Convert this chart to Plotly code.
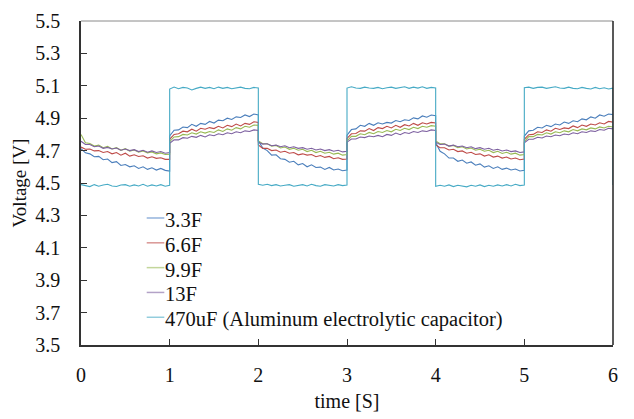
import plotly.graph_objects as go

# ---- data (time grid: each 1-s half period sampled every 0.05 s, both ends included) ----
seg_times = [round(i * 0.05, 2) for i in range(21)]

cap_3_3F = [
    [4.712, 4.686, 4.680, 4.662, 4.664, 4.644, 4.648, 4.626, 4.632, 4.608, 4.614, 4.600, 4.606, 4.590, 4.600, 4.584, 4.594, 4.580, 4.590, 4.578, 4.574],
    [4.790, 4.826, 4.828, 4.846, 4.842, 4.862, 4.850, 4.868, 4.862, 4.880, 4.870, 4.888, 4.884, 4.900, 4.892, 4.908, 4.904, 4.920, 4.910, 4.926, 4.920],
    [4.760, 4.716, 4.700, 4.672, 4.674, 4.650, 4.646, 4.628, 4.634, 4.612, 4.620, 4.600, 4.612, 4.596, 4.598, 4.584, 4.596, 4.580, 4.586, 4.576, 4.580],
    [4.795, 4.830, 4.834, 4.856, 4.850, 4.868, 4.856, 4.872, 4.864, 4.874, 4.870, 4.886, 4.878, 4.890, 4.886, 4.902, 4.896, 4.914, 4.906, 4.920, 4.916],
    [4.750, 4.696, 4.680, 4.654, 4.654, 4.634, 4.642, 4.622, 4.630, 4.610, 4.618, 4.598, 4.606, 4.590, 4.600, 4.584, 4.592, 4.580, 4.586, 4.574, 4.578],
    [4.790, 4.822, 4.826, 4.844, 4.840, 4.856, 4.848, 4.864, 4.858, 4.876, 4.868, 4.884, 4.878, 4.896, 4.890, 4.908, 4.900, 4.920, 4.912, 4.926, 4.922],
]
cap_6_6F = [
    [4.722, 4.708, 4.710, 4.698, 4.700, 4.688, 4.694, 4.680, 4.688, 4.672, 4.684, 4.666, 4.674, 4.664, 4.668, 4.654, 4.662, 4.652, 4.656, 4.646, 4.646],
    [4.770, 4.800, 4.804, 4.820, 4.816, 4.832, 4.820, 4.838, 4.832, 4.842, 4.836, 4.850, 4.840, 4.856, 4.848, 4.864, 4.852, 4.868, 4.862, 4.878, 4.874],
    [4.735, 4.714, 4.714, 4.700, 4.704, 4.690, 4.696, 4.684, 4.688, 4.674, 4.680, 4.672, 4.676, 4.662, 4.670, 4.658, 4.664, 4.650, 4.656, 4.646, 4.648],
    [4.775, 4.804, 4.806, 4.822, 4.820, 4.836, 4.824, 4.842, 4.836, 4.850, 4.840, 4.856, 4.844, 4.860, 4.852, 4.868, 4.856, 4.872, 4.864, 4.874, 4.870],
    [4.735, 4.718, 4.718, 4.704, 4.708, 4.694, 4.698, 4.684, 4.690, 4.676, 4.680, 4.666, 4.674, 4.660, 4.666, 4.654, 4.660, 4.648, 4.654, 4.644, 4.648],
    [4.770, 4.798, 4.800, 4.816, 4.812, 4.828, 4.820, 4.838, 4.830, 4.840, 4.836, 4.852, 4.842, 4.858, 4.850, 4.864, 4.858, 4.872, 4.864, 4.880, 4.876],
]
cap_9_9F = [
    [4.800, 4.748, 4.744, 4.728, 4.734, 4.718, 4.726, 4.710, 4.718, 4.702, 4.712, 4.696, 4.704, 4.690, 4.698, 4.686, 4.692, 4.680, 4.686, 4.676, 4.678],
    [4.755, 4.784, 4.786, 4.800, 4.796, 4.810, 4.802, 4.816, 4.808, 4.818, 4.812, 4.828, 4.818, 4.834, 4.826, 4.842, 4.834, 4.850, 4.844, 4.858, 4.856],
    [4.760, 4.742, 4.742, 4.728, 4.732, 4.716, 4.722, 4.708, 4.714, 4.702, 4.708, 4.694, 4.702, 4.688, 4.696, 4.684, 4.690, 4.678, 4.684, 4.672, 4.676],
    [4.760, 4.788, 4.788, 4.804, 4.798, 4.812, 4.804, 4.818, 4.812, 4.824, 4.816, 4.832, 4.824, 4.838, 4.830, 4.844, 4.836, 4.850, 4.844, 4.854, 4.850],
    [4.760, 4.742, 4.742, 4.728, 4.732, 4.718, 4.724, 4.710, 4.716, 4.702, 4.708, 4.696, 4.702, 4.688, 4.696, 4.682, 4.690, 4.678, 4.684, 4.672, 4.676],
    [4.755, 4.786, 4.786, 4.800, 4.796, 4.810, 4.802, 4.816, 4.810, 4.822, 4.816, 4.830, 4.822, 4.834, 4.828, 4.840, 4.834, 4.846, 4.840, 4.850, 4.846],
]
cap_13F = [
    [4.758, 4.738, 4.738, 4.724, 4.728, 4.714, 4.720, 4.710, 4.716, 4.702, 4.710, 4.700, 4.706, 4.694, 4.702, 4.690, 4.698, 4.688, 4.694, 4.684, 4.688],
    [4.745, 4.766, 4.766, 4.780, 4.776, 4.788, 4.782, 4.794, 4.784, 4.798, 4.792, 4.804, 4.798, 4.810, 4.804, 4.816, 4.810, 4.822, 4.818, 4.828, 4.824],
    [4.752, 4.740, 4.742, 4.730, 4.734, 4.724, 4.730, 4.718, 4.724, 4.714, 4.718, 4.708, 4.714, 4.704, 4.710, 4.700, 4.706, 4.696, 4.702, 4.692, 4.696],
    [4.752, 4.772, 4.772, 4.784, 4.780, 4.790, 4.786, 4.794, 4.786, 4.800, 4.794, 4.808, 4.798, 4.812, 4.806, 4.818, 4.812, 4.822, 4.818, 4.828, 4.824],
    [4.752, 4.738, 4.740, 4.728, 4.734, 4.724, 4.728, 4.718, 4.724, 4.712, 4.718, 4.708, 4.714, 4.702, 4.708, 4.698, 4.704, 4.694, 4.698, 4.688, 4.692],
    [4.748, 4.770, 4.770, 4.782, 4.778, 4.790, 4.786, 4.796, 4.792, 4.802, 4.798, 4.810, 4.804, 4.816, 4.812, 4.822, 4.818, 4.830, 4.826, 4.838, 4.834],
]
cap_470uF = [
    [4.490, 4.482, 4.478, 4.490, 4.480, 4.488, 4.492, 4.482, 4.478, 4.488, 4.490, 4.480, 4.488, 4.482, 4.492, 4.480, 4.488, 4.482, 4.490, 4.480, 4.486],
    [5.080, 5.092, 5.082, 5.090, 5.086, 5.074, 5.084, 5.092, 5.084, 5.090, 5.082, 5.092, 5.084, 5.090, 5.082, 5.086, 5.092, 5.084, 5.082, 5.090, 5.086],
    [4.492, 4.486, 4.492, 4.484, 4.490, 4.482, 4.486, 4.490, 4.480, 4.486, 4.490, 4.482, 4.492, 4.484, 4.480, 4.490, 4.484, 4.482, 4.490, 4.484, 4.488],
    [5.086, 5.094, 5.086, 5.084, 5.092, 5.086, 5.084, 5.090, 5.082, 5.088, 5.092, 5.084, 5.088, 5.094, 5.084, 5.092, 5.086, 5.094, 5.084, 5.090, 5.086],
    [4.480, 4.486, 4.480, 4.488, 4.478, 4.486, 4.480, 4.476, 4.486, 4.480, 4.488, 4.478, 4.486, 4.480, 4.488, 4.482, 4.490, 4.482, 4.492, 4.484, 4.488],
    [5.088, 5.092, 5.084, 5.090, 5.092, 5.084, 5.088, 5.094, 5.086, 5.084, 5.092, 5.084, 5.082, 5.090, 5.084, 5.080, 5.090, 5.082, 5.088, 5.080, 5.086],
]
cap_470uF_end = [4.488]  # final fall at t = 6 s

series_names = ["3.3F", "6.6F", "9.9F", "13F", "470uF (Aluminum electrolytic capacitor)"]
series_data = [cap_3_3F, cap_6_6F, cap_9_9F, cap_13F, cap_470uF]
series_colors = ["#4a7ebb", "#be4b48", "#98b954", "#7d60a0", "#46aac5"]
legend_colors = ["#93b3dc", "#d99694", "#c3d69b", "#b3a2c7", "#93cddd"]

y_ticks = [3.5, 3.7, 3.9, 4.1, 4.3, 4.5, 4.7, 4.9, 5.1, 5.3, 5.5]
x_ticks = [0, 1, 2, 3, 4, 5, 6]

FONT = "Liberation Serif"

fig = go.Figure()
for name, segs, col in zip(series_names, series_data, series_colors):
    xs, ys = [], []
    for k, seg in enumerate(segs):
        xs += [k + t for t in seg_times]
        ys += seg
    if name.startswith("470uF"):
        xs += [6.0]
        ys += cap_470uF_end
    fig.add_trace(go.Scatter(x=xs, y=ys, mode="lines", name=name,
                             line=dict(color=col, width=1.1), showlegend=False))

# custom legend (short sample lines, as in the original)
L_X0, L_X1, L_Y0, L_DY = 0.1235, 0.1566, 0.392, 0.0766
shapes = []
annotations = []
for i, (name, col) in enumerate(zip(series_names, legend_colors)):
    yy = L_Y0 - i * L_DY
    shapes.append(dict(type="line", xref="paper", yref="paper", x0=L_X0, x1=L_X1,
                       y0=yy, y1=yy, line=dict(color=col, width=1.5)))
    annotations.append(dict(xref="paper", yref="paper", x=L_X1 - 0.002, y=yy - 0.006,
                            xanchor="left", yanchor="middle", text=name, showarrow=False,
                            font=dict(family=FONT, size=20.5, color="#111")))

# frame: lighter top edge, darker right edge
shapes.append(dict(type="line", xref="paper", yref="paper", x0=0, x1=1, y0=1, y1=1,
                   line=dict(color="#8a8a8a", width=1)))
shapes.append(dict(type="line", xref="paper", yref="paper", x0=1, x1=1, y0=0, y1=1,
                   line=dict(color="#222", width=1.5)))

fig.update_layout(
    width=634, height=419,
    margin=dict(l=81, r=21, t=10, b=72),
    paper_bgcolor="white", plot_bgcolor="white",
    font=dict(family=FONT, size=20, color="#111"),
    shapes=shapes, annotations=annotations,
    xaxis=dict(range=[0, 6], tickvals=x_ticks, ticktext=[str(v) for v in x_ticks],
               ticks="inside", ticklen=6, tickcolor="#333", tickwidth=1,
               showline=True, linecolor="#333", linewidth=1.5, showgrid=False, zeroline=False,
               ticklabelstandoff=11, tickfont=dict(family=FONT, size=20),
               ticklabeloverflow="allow",
               title=dict(text="time [S]", standoff=9, font=dict(family=FONT, size=20))),
    yaxis=dict(range=[3.5, 5.5], tickvals=y_ticks, ticktext=[f"{v:.1f}" for v in y_ticks],
               ticks="inside", ticklen=6, tickcolor="#333", tickwidth=1,
               showline=True, linecolor="#333", linewidth=1.5, showgrid=False, zeroline=False,
               ticklabelstandoff=15, tickfont=dict(family=FONT, size=20),
               ticklabeloverflow="allow",
               title=dict(text="Voltage [V]", standoff=4, font=dict(family=FONT, size=19))),
)

fig.write_html("out.html")
